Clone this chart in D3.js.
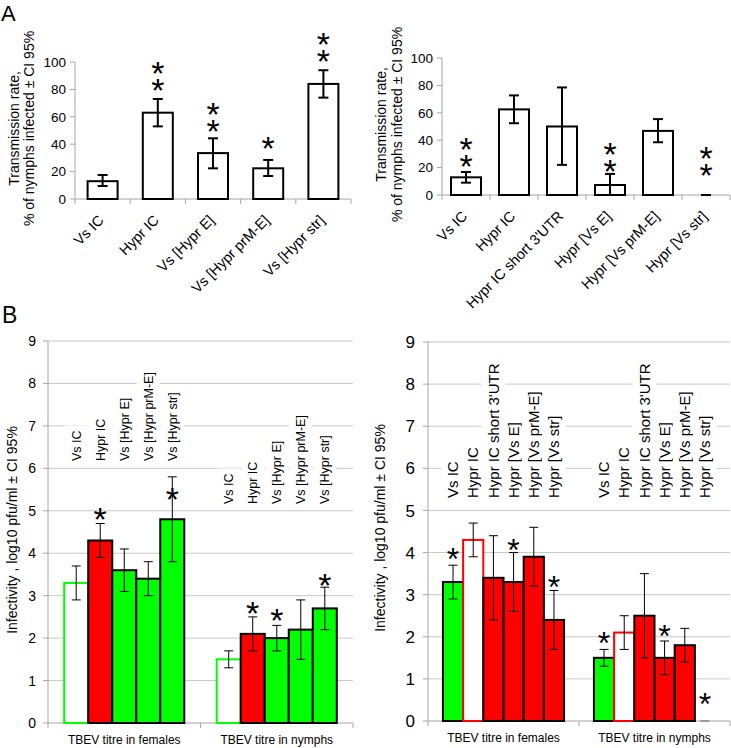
<!DOCTYPE html>
<html><head><meta charset="utf-8">
<script src="https://cdn.jsdelivr.net/npm/d3@7"></script>
<style>body{margin:0;background:#fff} svg{display:block} text{font-family:"Liberation Sans",Arial,sans-serif;fill:#000}</style>
</head><body><svg id="c" width="731" height="748"></svg>
<script>
// ---------- Panel A (transmission rate, %) ----------
const aTicks = [0, 20, 40, 60, 80, 100];
const aLeftCats = ["Vs IC", "Hypr IC", "Vs [Hypr E]", "Vs [Hypr prM-E]", "Vs [Hypr str]"];
const aLeftVals = [13, 63, 33.5, 22.4, 84];
const aLeftLo = [9.5, 53, 22.4, 16.8, 74];
const aLeftHi = [17.5, 73, 44.3, 28.5, 94];
const aLeftStars = [0, 2, 2, 1, 2];
const aLeftStarAt = [null, 85, 55, 43, 106];

const aRightCats = ["Vs IC", "Hypr IC", "Hypr IC short 3'UTR", "Hypr [Vs E]", "Hypr [Vs prM-E]", "Hypr [Vs str]"];
const aRightVals = [12.9, 62.5, 50, 7.3, 46.8, 0];
const aRightLo = [9, 52.4, 22, 0, 38.5, 0];
const aRightHi = [16.8, 72.7, 78.5, 15.4, 55.4, 0];
const aRightStars = [2, 0, 0, 2, 0, 2];
const aRightStarAt = [27, null, null, 23, null, 20];

// ---------- Panel B (infectivity, log10 pfu/ml) ----------
const bTicks = [0, 1, 2, 3, 4, 5, 6, 7, 8, 9];
const bGroups = ["TBEV titre in females", "TBEV titre in nymphs"];

const bLeftSeries = ["Vs IC", "Hypr IC", "Vs [Hypr E]", "Vs [Hypr prM-E]", "Vs [Hypr str]"];
const bLeftFill = ["#ffffff", "#ff0000", "#00ff00", "#00ff00", "#00ff00"];
const bLeftStroke = ["#00ff00", "#000000", "#000000", "#000000", "#000000"];
const bLeftFemales = [3.3, 4.3, 3.6, 3.4, 4.8];
const bLeftFemalesLo = [2.9, 3.9, 3.1, 3.0, 3.8];
const bLeftFemalesHi = [3.7, 4.7, 4.1, 3.8, 5.8];
const bLeftFemalesStar = [null, 4.98, null, null, 5.45];
const bLeftNymphs = [1.5, 2.1, 2.0, 2.2, 2.7];
const bLeftNymphsLo = [1.3, 1.7, 1.7, 1.5, 2.2];
const bLeftNymphsHi = [1.7, 2.5, 2.3, 2.9, 3.2];
const bLeftNymphsStar = [null, 2.78, 2.6, null, 3.42];

const bRightSeries = ["Vs IC", "Hypr IC", "Hypr IC short 3'UTR", "Hypr [Vs E]", "Hypr [Vs prM-E]", "Hypr [Vs str]"];
const bRightFill = ["#00ff00", "#ffffff", "#ff0000", "#ff0000", "#ff0000", "#ff0000"];
const bRightStroke = ["#000000", "#ff0000", "#000000", "#000000", "#000000", "#000000"];
const bRightFemales = [3.3, 4.3, 3.4, 3.3, 3.9, 2.4];
const bRightFemalesLo = [2.9, 3.9, 2.4, 2.6, 3.2, 1.7];
const bRightFemalesHi = [3.7, 4.7, 4.4, 4.0, 4.6, 3.1];
const bRightFemalesStar = [4.02, null, null, 4.23, null, 3.35];
const bRightNymphs = [1.5, 2.1, 2.5, 1.5, 1.8, 0];
const bRightNymphsLo = [1.3, 1.7, 1.5, 1.1, 1.4, 0];
const bRightNymphsHi = [1.7, 2.5, 3.5, 1.9, 2.2, 0];
const bRightNymphsStar = [2.04, null, null, 2.2, null, 0.58];

const svg = d3.select("#c");
svg.append("rect").attr("width", 731).attr("height", 748).attr("fill", "#fff");
const AXIS = "#a6a6a6", GRID = "#c8c8c8";

// n stacked asterisks as one text element; y = centre of the lowest star
function stars(g, x, y, size, n) {
  const t = g.append("text").attr("text-anchor", "middle").attr("font-size", size);
  for (let k = n - 1; k >= 0; k--) {
    t.append("tspan").attr("x", x).attr("y", y - k * 17 + 0.578 * size).text("*");
  }
}

function panelA(cats, vals, lo, hi, starN, starAt, xr, yr, labX) {
  const g = svg.append("g");
  const x = d3.scaleBand().domain(cats).range(xr);
  const y = d3.scaleLinear().domain([0, 100]).range(yr);
  g.append("line").attr("x1", xr[0]).attr("x2", xr[0]).attr("y1", y(0)).attr("y2", y(100)).attr("stroke", AXIS);
  aTicks.forEach(t => {
    g.append("line").attr("x1", xr[0] - 5).attr("x2", xr[0]).attr("y1", y(t)).attr("y2", y(t)).attr("stroke", AXIS);
    g.append("text").attr("x", xr[0] - 9).attr("y", y(t)).attr("dy", "0.36em")
      .attr("text-anchor", "end").attr("font-size", 13.5).text(t);
  });
  g.append("line").attr("x1", xr[0]).attr("x2", xr[1]).attr("y1", y(0)).attr("y2", y(0)).attr("stroke", AXIS);
  cats.forEach(c => {
    g.append("line").attr("x1", x(c)).attr("x2", x(c)).attr("y1", y(0)).attr("y2", y(0) + 5).attr("stroke", AXIS);
  });
  g.append("line").attr("x1", xr[1]).attr("x2", xr[1]).attr("y1", y(0)).attr("y2", y(0) + 5).attr("stroke", AXIS);
  const bw = 30;
  cats.forEach((c, i) => {
    const cx = x(c) + x.bandwidth() / 2;
    if (vals[i] > 0) {
      g.append("rect").attr("x", cx - bw / 2).attr("y", y(vals[i])).attr("width", bw)
        .attr("height", y(0) - y(vals[i])).attr("fill", "#fff").attr("stroke", "#000").attr("stroke-width", 2);
    }
    g.append("line").attr("x1", cx).attr("x2", cx).attr("y1", y(lo[i])).attr("y2", y(hi[i])).attr("stroke", "#000").attr("stroke-width", 2);
    [lo[i], hi[i]].forEach(v => g.append("line").attr("x1", cx - 5).attr("x2", cx + 5).attr("y1", y(v)).attr("y2", y(v)).attr("stroke", "#000").attr("stroke-width", 2));
    if (starN[i] > 0) stars(g, cx, y(starAt[i]), 34, starN[i]);
    g.append("text").attr("transform", `translate(${cx - 5},${y(0) + 15}) rotate(-45)`)
      .attr("text-anchor", "end").attr("dy", "0.7em").attr("font-size", 14.5).text(c);
  });
  const cy = (yr[0] + yr[1]) / 2 - 2;
  ["Transmission rate,", "% of nymphs infected \u00b1 CI 95%"].forEach((t, i) => {
    g.append("text").attr("transform", `translate(${labX[i]},${cy}) rotate(-90)`)
      .attr("text-anchor", "middle").attr("dy", "0.35em").attr("font-size", 14).text(t);
  });
}

panelA(aLeftCats, aLeftVals, aLeftLo, aLeftHi, aLeftStars, aLeftStarAt, [75, 351], [199, 62], [14, 29]);
panelA(aRightCats, aRightVals, aRightLo, aRightHi, aRightStars, aRightStarAt, [442, 730], [195, 58], [381, 397]);

function panelB(series, fill, stroke, groupsData, xr, yr, opts) {
  const g = svg.append("g");
  const y = d3.scaleLinear().domain([0, 9]).range(yr);
  const x0 = d3.scaleBand().domain(bGroups).range(xr);
  const x1 = d3.scaleBand().domain(series).range([0, x0.bandwidth()]).paddingOuter(opts.outer);
  bTicks.forEach(t => {
    if (t > 0) g.append("line").attr("x1", xr[0]).attr("x2", xr[1]).attr("y1", y(t)).attr("y2", y(t)).attr("stroke", GRID);
    g.append("line").attr("x1", xr[0] - 5).attr("x2", xr[0]).attr("y1", y(t)).attr("y2", y(t)).attr("stroke", AXIS);
    g.append("text").attr("x", xr[0] - opts.tickGap).attr("y", y(t)).attr("dy", "0.36em")
      .attr("text-anchor", "end").attr("font-size", opts.tickSize).text(t);
  });
  g.append("line").attr("x1", xr[0]).attr("x2", xr[0]).attr("y1", y(0)).attr("y2", y(9)).attr("stroke", AXIS);
  g.append("line").attr("x1", xr[0]).attr("x2", xr[1]).attr("y1", y(0)).attr("y2", y(0)).attr("stroke", AXIS);
  bGroups.forEach(gr => {
    const gx = x0(gr);
    g.append("line").attr("x1", gx).attr("x2", gx).attr("y1", y(0)).attr("y2", y(0) + 5).attr("stroke", AXIS);
    g.append("text").attr("x", gx + x0.bandwidth() / 2).attr("y", y(0) + 21)
      .attr("text-anchor", "middle").attr("font-size", 12).text(gr);
  });
  g.append("line").attr("x1", xr[1]).attr("x2", xr[1]).attr("y1", y(0)).attr("y2", y(0) + 5).attr("stroke", AXIS);
  bGroups.forEach((gr, gi) => {
    const base = opts.labelBase[gi];
    series.forEach(s => {
      const cx = x0(gr) + x1(s) + x1.bandwidth() / 2;
      const rect = g.append("rect").attr("fill", "#fff");
      const t = g.append("text").attr("transform", `translate(${cx},${base}) rotate(-90)`)
        .attr("dy", "0.35em").attr("font-size", opts.labSize).text(s);
      const len = t.node().getComputedTextLength();
      rect.attr("x", cx - opts.boxHalf).attr("width", opts.boxHalf * 2)
        .attr("y", base - len - 5).attr("height", len + 11);
    });
  });
  bGroups.forEach((gr, gi) => {
    const d = groupsData[gi];
    series.forEach((s, i) => {
      const bx = x0(gr) + x1(s);
      const bw = x1.bandwidth();
      const cx = bx + bw / 2;
      if (d.v[i] > 0) {
        g.append("rect").attr("x", bx).attr("y", y(d.v[i])).attr("width", bw).attr("height", y(0) - y(d.v[i]))
          .attr("fill", fill[i]).attr("stroke", stroke[i]).attr("stroke-width", 2);
      }
      g.append("line").attr("x1", cx).attr("x2", cx).attr("y1", y(d.lo[i])).attr("y2", y(d.hi[i])).attr("stroke", "#000").attr("stroke-width", 1);
      [d.lo[i], d.hi[i]].forEach(v => g.append("line").attr("x1", cx - 4.5).attr("x2", cx + 4.5).attr("y1", y(v)).attr("y2", y(v))
        .attr("stroke", d.v[i] > 0 ? "#000" : "#888").attr("stroke-width", 1));
      if (d.star[i] != null) stars(g, cx, y(d.star[i]), opts.starSize, 1);
    });
  });
  g.append("text").attr("transform", `translate(${opts.ylabX},${opts.ylabY}) rotate(-90)`)
    .attr("text-anchor", "middle").attr("dy", "0.35em").attr("font-size", 14)
    .text("Infectivity , log10 pfu/ml \u00b1 CI 95%");
}

panelB(bLeftSeries, bLeftFill, bLeftStroke, [
  {v: bLeftFemales, lo: bLeftFemalesLo, hi: bLeftFemalesHi, star: bLeftFemalesStar},
  {v: bLeftNymphs, lo: bLeftNymphsLo, hi: bLeftNymphsHi, star: bLeftNymphsStar}
], [48, 353], [723, 341], {outer: 0.675, tickSize: 14, tickGap: 12, labSize: 12.5, labelBase: [461, 504], boxHalf: 11.5, starSize: 34, ylabX: 12, ylabY: 530});

panelB(bRightSeries, bRightFill, bRightStroke, [
  {v: bRightFemales, lo: bRightFemalesLo, hi: bRightFemalesHi, star: bRightFemalesStar},
  {v: bRightNymphs, lo: bRightNymphsLo, hi: bRightNymphsHi, star: bRightNymphsStar}
], [428, 730], [721, 342], {outer: 0.74, tickSize: 17, tickGap: 13, labSize: 15, labelBase: [498, 498], boxHalf: 12, starSize: 32, ylabX: 380, ylabY: 528});

svg.append("text").attr("x", 1).attr("y", 21).attr("font-size", 22).text("A");
svg.append("text").attr("x", 2).attr("y", 323).attr("font-size", 23).text("B");
</script></body></html>
